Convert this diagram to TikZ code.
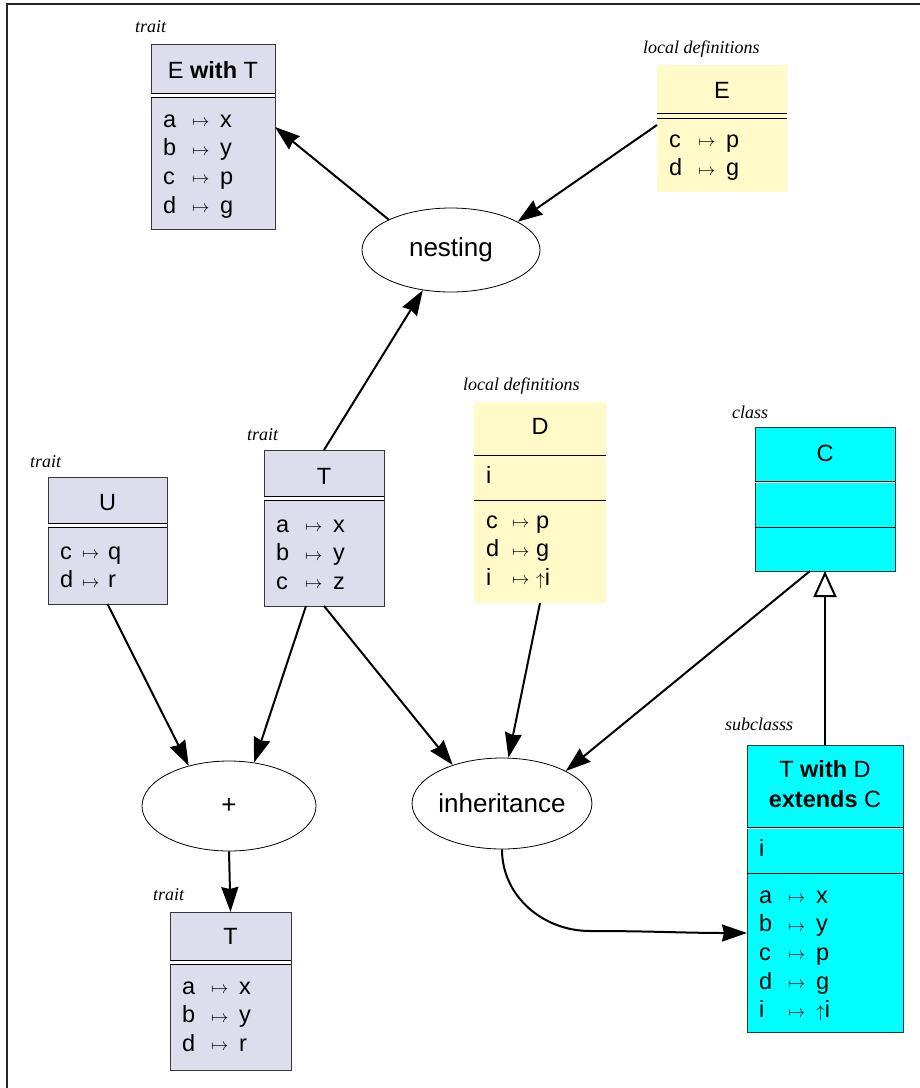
\documentclass[tikz,border=0pt]{standalone}
\usepackage{fontspec}
\setmainfont{Liberation Sans}
\newfontfamily\seriffont{Liberation Serif}
\usetikzlibrary{arrows.meta,shapes.geometric}
\definecolor{lav}{RGB}{221,221,238}
\definecolor{yel}{RGB}{255,250,200}
\definecolor{cyn}{RGB}{0,255,255}
\definecolor{edge}{RGB}{55,55,55}
\newcommand\mrowx[4]{\makebox[#1][l]{#3}\makebox[#2][l]{\raisebox{0.5pt}{\fontsize{19}{19}\selectfont$\mapsto$}}#4}
\newcommand\mrow[2]{\mrowx{29pt}{28pt}{#1}{#2}}
\newcommand\upi{{\fontsize{19}{19}\selectfont$\uparrow$}i}
\newcommand\dbl[3]{%
  \fill[white] (#1.west |- 0,#2) rectangle (#1.east |- 0,#3);
  \draw[sep] (#1.west |- 0,#2) -- (#1.east |- 0,#2);
  \draw[sep] (#1.west |- 0,#3) -- (#1.east |- 0,#3);}
\newcommand\sgl[2]{\draw[sep] (#1.west |- 0,#2) -- (#1.east |- 0,#2);}
\tikzset{
 box/.style={rectangle, inner sep=0pt, outer sep=0pt, line width=0.8pt},
 lavbox/.style={box, fill=lav, draw=edge},
 yelbox/.style={box, fill=yel},
 cynbox/.style={box, fill=cyn, draw=edge},
 lbl/.style={font=\seriffont\itshape\fontsize{18}{20}\selectfont, inner sep=0pt, anchor=base west},
 ttl/.style={font=\fontsize{23.5}{30}\selectfont, inner sep=0pt, anchor=base},
 itm/.style={font=\fontsize{23.5}{28.7}\selectfont, inner sep=0pt, anchor=base west},
 ell/.style={ellipse, draw, line width=0.8pt, fill=white, inner sep=0pt, font=\fontsize{26}{30}\selectfont},
 sep/.style={line width=0.8pt, black},
 arr/.style={line width=2pt, -{Stealth[length=25pt,width=17pt,inset=2pt]}},
 gen/.style={line width=2pt, -{Triangle[open,length=26pt,width=23pt]}},
}
\begin{document}
\begin{tikzpicture}[x=1pt,y=-1pt]
\useasboundingbox (0,0) rectangle (920,1088);
% frame
\coordinate (frtr) at (920,4);
\coordinate (frtl) at (7,4);
\coordinate (frbl) at (7,1088);
\draw[line width=1.2pt, black!85] (frtr) -- (frtl) -- (frbl);

% E with T
\node[lavbox, minimum width=124pt, minimum height=185pt] (ewt) at (213,136.5) {};
\dbl{ewt}{93}{97}
\node[lbl] (ewtl) at (135,32) {trait};
\node[ttl] (ewtt) at (213,78) {E \textbf{with} T};
\node[itm] (ewti) at (163,127) {\begin{tabular}[t]{@{}l@{}}\mrow{a}{x}\\\mrow{b}{y}\\\mrow{c}{p}\\\mrow{d}{g}\end{tabular}};

% E local definitions
\node[yelbox, minimum width=130pt, minimum height=127pt] (e) at (722,128.5) {};
\sgl{e}{113}
\sgl{e}{118}
\node[lbl] (el) at (643,53) {local definitions};
\node[ttl] (et) at (722,98) {E};
\node[itm] (ei) at (669,147) {\begin{tabular}[t]{@{}l@{}}\mrow{c}{p}\\\mrow{d}{g}\end{tabular}};

% T
\node[lavbox, minimum width=120pt, minimum height=156pt] (t) at (324,528) {};
\dbl{t}{496}{500}
\node[lbl] (tl) at (247,440) {trait};
\node[ttl] (tt) at (324,484) {T};
\node[itm] (ti) at (276,532) {\begin{tabular}[t]{@{}l@{}}\mrow{a}{x}\\\mrow{b}{y}\\\mrow{c}{z}\end{tabular}};

% U
\node[lavbox, minimum width=119pt, minimum height=127pt] (u) at (107.5,540.5) {};
\dbl{u}{523}{527}
\node[lbl] (ul) at (30,467) {trait};
\node[ttl] (ut) at (107.5,510) {U};
\node[itm] (ui) at (60,559) {\begin{tabular}[t]{@{}l@{}}\mrowx{22pt}{26pt}{c}{q}\\\mrowx{22pt}{26pt}{d}{r}\end{tabular}};

% D
\node[yelbox, minimum width=132pt, minimum height=201pt] (d) at (540,502.5) {};
\sgl{d}{455}
\sgl{d}{500}
\node[lbl] (dl) at (463,390) {local definitions};
\node[ttl] (dt) at (540,434) {D};
\node[itm] (dv) at (486,483) {i};
\node[itm] (di) at (486,528) {\begin{tabular}[t]{@{}l@{}}\mrowx{26pt}{24pt}{c}{p}\\\mrowx{26pt}{24pt}{d}{g}\\\mrowx{26pt}{24pt}{i}{\upi}\end{tabular}};

% C
\node[cynbox, minimum width=140pt, minimum height=144pt] (c) at (825,499) {};
\sgl{c}{481}
\draw[white, line width=1pt] (c.west |- 0,482.6) -- (c.east |- 0,482.6);
\sgl{c}{527}
\node[lbl] (cl) at (732,418) {class};
\node[ttl] (ct) at (825,461) {C};

% subclass
\node[cynbox, minimum width=156pt, minimum height=287pt] (sub) at (825,888.5) {};
\sgl{sub}{827}
\draw[white, line width=1pt] (sub.west |- 0,828.6) -- (sub.east |- 0,828.6);
\sgl{sub}{873}
\node[lbl] (subl) at (725,730) {subclasss};
\node[ttl] (subt) at (825,777) {\begin{tabular}[t]{@{}c@{}}T \textbf{with} D\\\textbf{extends} C\end{tabular}};
\node[itm] (subv) at (759,856) {i};
\node[itm] (subi) at (759,903) {\begin{tabular}[t]{@{}l@{}}\mrow{a}{x}\\\mrow{b}{y}\\\mrow{c}{p}\\\mrow{d}{g}\\\mrow{i}{\upi}\end{tabular}};

% bottom T
\node[lavbox, minimum width=121pt, minimum height=158pt] (bt) at (230.5,991) {};
\dbl{bt}{960}{964}
\node[lbl] (btl) at (153,900) {trait};
\node[ttl] (btt) at (230.5,944) {T};
\node[itm] (bti) at (182,994) {\begin{tabular}[t]{@{}l@{}}\mrow{a}{x}\\\mrow{b}{y}\\\mrow{d}{r}\end{tabular}};

% ellipses
\node[ell, minimum width=178pt, minimum height=84pt] (nest) at (451,250) {nesting};
\node[ell, minimum width=174pt, minimum height=90pt] (plus) at (229,806) {+};
\node[ell, minimum width=174pt, minimum height=91pt] (inh) at (502,803.5) {inheritance};

% connectors
\draw[arr] (nest.154) -- ([yshift=9.5pt]ewt.east);
\draw[arr] ([yshift=3.5pt]e.west) -- (nest.23);
\draw[arr] (t.north) -- (nest.235);
\draw[arr] (u.south) -- (plus.135);
\draw[arr] ([xshift=-18pt]t.south) -- (plus.60);
\draw[arr] (t.south) -- (inh.142);
\draw[arr] (d.south) -- (inh.82);
\draw[arr] ([xshift=-15pt]c.south) -- (inh.27);
\draw[arr] (plus.south) -- (bt.north);
\coordinate (wv) at (590,931);
\draw[arr] (inh.south) to[out=-90,in=180] (wv) to[out=0,in=180] ([yshift=-44.5pt]sub.west);
\draw[gen] (sub.north) -- (c.south);
\end{tikzpicture}
\end{document}
